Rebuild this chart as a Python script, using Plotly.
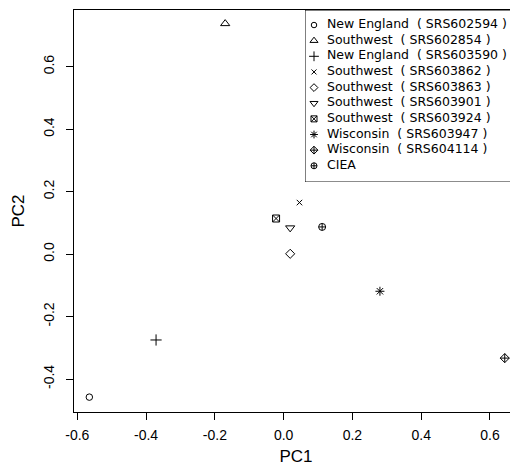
import plotly.graph_objects as go

labels = ["New England  ( SRS602594 )", "Southwest  ( SRS602854 )", "New England  ( SRS603590 )",
          "Southwest  ( SRS603862 )", "Southwest  ( SRS603863 )", "Southwest  ( SRS603901 )",
          "Southwest  ( SRS603924 )", "Wisconsin  ( SRS603947 )", "Wisconsin  ( SRS604114 )", "CIEA"]
pc1 = [-0.565, -0.170, -0.371, 0.046, 0.019, 0.019, -0.022, 0.280, 0.643, 0.112]
pc2 = [-0.458, 0.738, -0.275, 0.165, 0.001, 0.084, 0.114, -0.119, -0.333, 0.087]
symbols = ["circle-open", "triangle-up-open", "cross-thin-open", "x-thin-open", "diamond-open",
           "triangle-down-open", "square-x-open", "asterisk-open", "diamond-cross-open", "circle-cross-open"]
sizes = [6.5, 8, 8, 5.5, 7, 8, 7, 7.5, 7, 7]
legend_sizes = [5.5, 7, 7, 5, 6, 7, 6, 6.5, 6, 6]

FONT = "Liberation Sans, Arial, sans-serif"
LEGEND_FONT = "DejaVu Sans, sans-serif"
fig = go.Figure()
for i in range(len(labels)):
    fig.add_trace(go.Scatter(x=[pc1[i]], y=[pc2[i]], mode="markers", showlegend=False,
                             marker=dict(symbol=symbols[i], size=sizes[i], color="black",
                                         line=dict(color="black", width=1))))

# legend drawn on an overlay axis
idx = list(range(len(labels)))
for i in idx:
    fig.add_trace(go.Scatter(x=[9], y=[i], mode="markers", showlegend=False, xaxis="x2", yaxis="y2",
                             marker=dict(symbol=symbols[i], size=legend_sizes[i], color="black",
                                         line=dict(color="black", width=1))))
fig.add_trace(go.Scatter(x=[22] * len(labels), y=idx, mode="text", text=labels, textposition="middle right",
                         textfont=dict(family=LEGEND_FONT, size=12.5, color="black"), showlegend=False,
                         cliponaxis=False, xaxis="x2", yaxis="y2"))
fig.add_shape(type="rect", xref="x2", yref="y2", x0=0, x1=230, y0=-0.96, y1=10.04,
              line=dict(color="black", width=1), fillcolor="rgba(0,0,0,0)")

fig.update_layout(
    width=510, height=464, margin=dict(l=66, r=0, t=2, b=60),
    plot_bgcolor="white", paper_bgcolor="white",
    font=dict(family=FONT, size=14, color="black"),
    xaxis=dict(range=[-0.6096, 0.6815], tickvals=[-0.6, -0.4, -0.2, 0.0, 0.2, 0.4, 0.6],
               ticktext=["-0.6", "-0.4", "-0.2", "0.0", "0.2", "0.4", "0.6"],
               showgrid=False, zeroline=False, showline=True, mirror=True, linecolor="black", linewidth=1,
               ticks="outside", ticklen=7, tickcolor="black", ticklabelstandoff=3,
               title=dict(text="PC1", standoff=8)),
    yaxis=dict(range=[-0.5056, 0.7816], tickvals=[-0.4, -0.2, 0.0, 0.2, 0.4, 0.6],
               ticktext=["-0.4", "-0.2", "0.0", "0.2", "0.4", "0.6"], tickangle=-90,
               showgrid=False, zeroline=False, showline=True, linecolor="black", linewidth=1,
               ticks="outside", ticklen=7, tickcolor="black", ticklabelstandoff=6,
               title=dict(text="PC2", standoff=12)),
    xaxis2=dict(domain=[(305 - 74) / 444, 1.0], range=[0, 213], anchor="y2", visible=False, fixedrange=True),
    yaxis2=dict(domain=[0.572, 1.0], range=[10.04, -0.96], anchor="x2", visible=False, fixedrange=True),
)

fig.write_html("out.html")
